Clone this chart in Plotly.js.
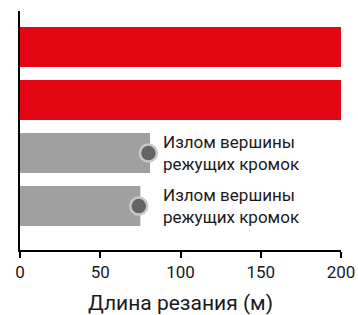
<!DOCTYPE html>
<html>
<head>
<meta charset="utf-8">
<script src="https://cdn.plot.ly/plotly-3.0.1.min.js"></script>
<style>html,body{margin:0;padding:0;background:#fff;}#chart{width:358px;height:315px;}</style>
</head>
<body>
<div id="chart"></div>
<script>
// Data
const rows = ['1', '2', '3', '4'];
const cutLength = [200, 200, 81, 75];
const barColors = ['#E30613', '#E30613', '#A0A0A0', '#A0A0A0'];
const failureRows = ['3', '4'];
const failureAt = [80, 74];
const failureLabel = ['Излом вершины<br>режущих кромок', 'Излом вершины<br>режущих кромок'];
const xTicks = [0, 50, 100, 150, 200];
const xTitle = 'Длина резания (м)';

const font = 'Roboto, "Noto Sans", sans-serif';

const traces = [
  {
    type: 'bar',
    orientation: 'h',
    y: rows,
    x: cutLength,
    marker: {color: barColors},
    hoverinfo: 'none'
  },
  {
    type: 'scatter',
    mode: 'markers',
    y: failureRows,
    x: failureAt,
    marker: {size: 17, color: '#646464', line: {color: '#C8C8C8', width: 2.5}},
    hoverinfo: 'none',
    cliponaxis: false
  }
];

const labelX = Math.max(...failureAt);
const annotations = failureRows.map((r, i) => ({
  x: labelX, y: rows.indexOf(r), xref: 'x', yref: 'y',
  text: failureLabel[i], showarrow: false,
  xanchor: 'left', yanchor: 'middle', align: 'left',
  xshift: 13,
  font: {family: font, size: 17, color: '#1a1a1a'}
}));

const layout = {
  width: 358, height: 315,
  margin: {l: 20, r: 17, t: 11, b: 65},
  paper_bgcolor: '#fff', plot_bgcolor: '#fff',
  showlegend: false,
  bargap: 0.245,
  xaxis: {
    range: [0, 200], tickvals: xTicks, ticktext: xTicks.map(String),
    showgrid: false, zeroline: false,
    showline: true, linecolor: '#000', linewidth: 2,
    ticks: 'outside', ticklen: 6, tickwidth: 2, tickcolor: '#000',
    tickfont: {family: font, size: 17, color: '#1a1a1a'},
    title: {text: xTitle, font: {family: font, size: 21, color: '#1a1a1a'}, standoff: 14}
  },
  yaxis: {
    type: 'category', categoryorder: 'array', categoryarray: rows,
    range: [3.83, -0.68],
    showgrid: false, zeroline: false, showticklabels: false, ticks: '',
    showline: true, linecolor: '#000', linewidth: 2
  },
  annotations: annotations
};

Plotly.newPlot('chart', traces, layout, {displayModeBar: false, staticPlot: true});
</script>
</body>
</html>
